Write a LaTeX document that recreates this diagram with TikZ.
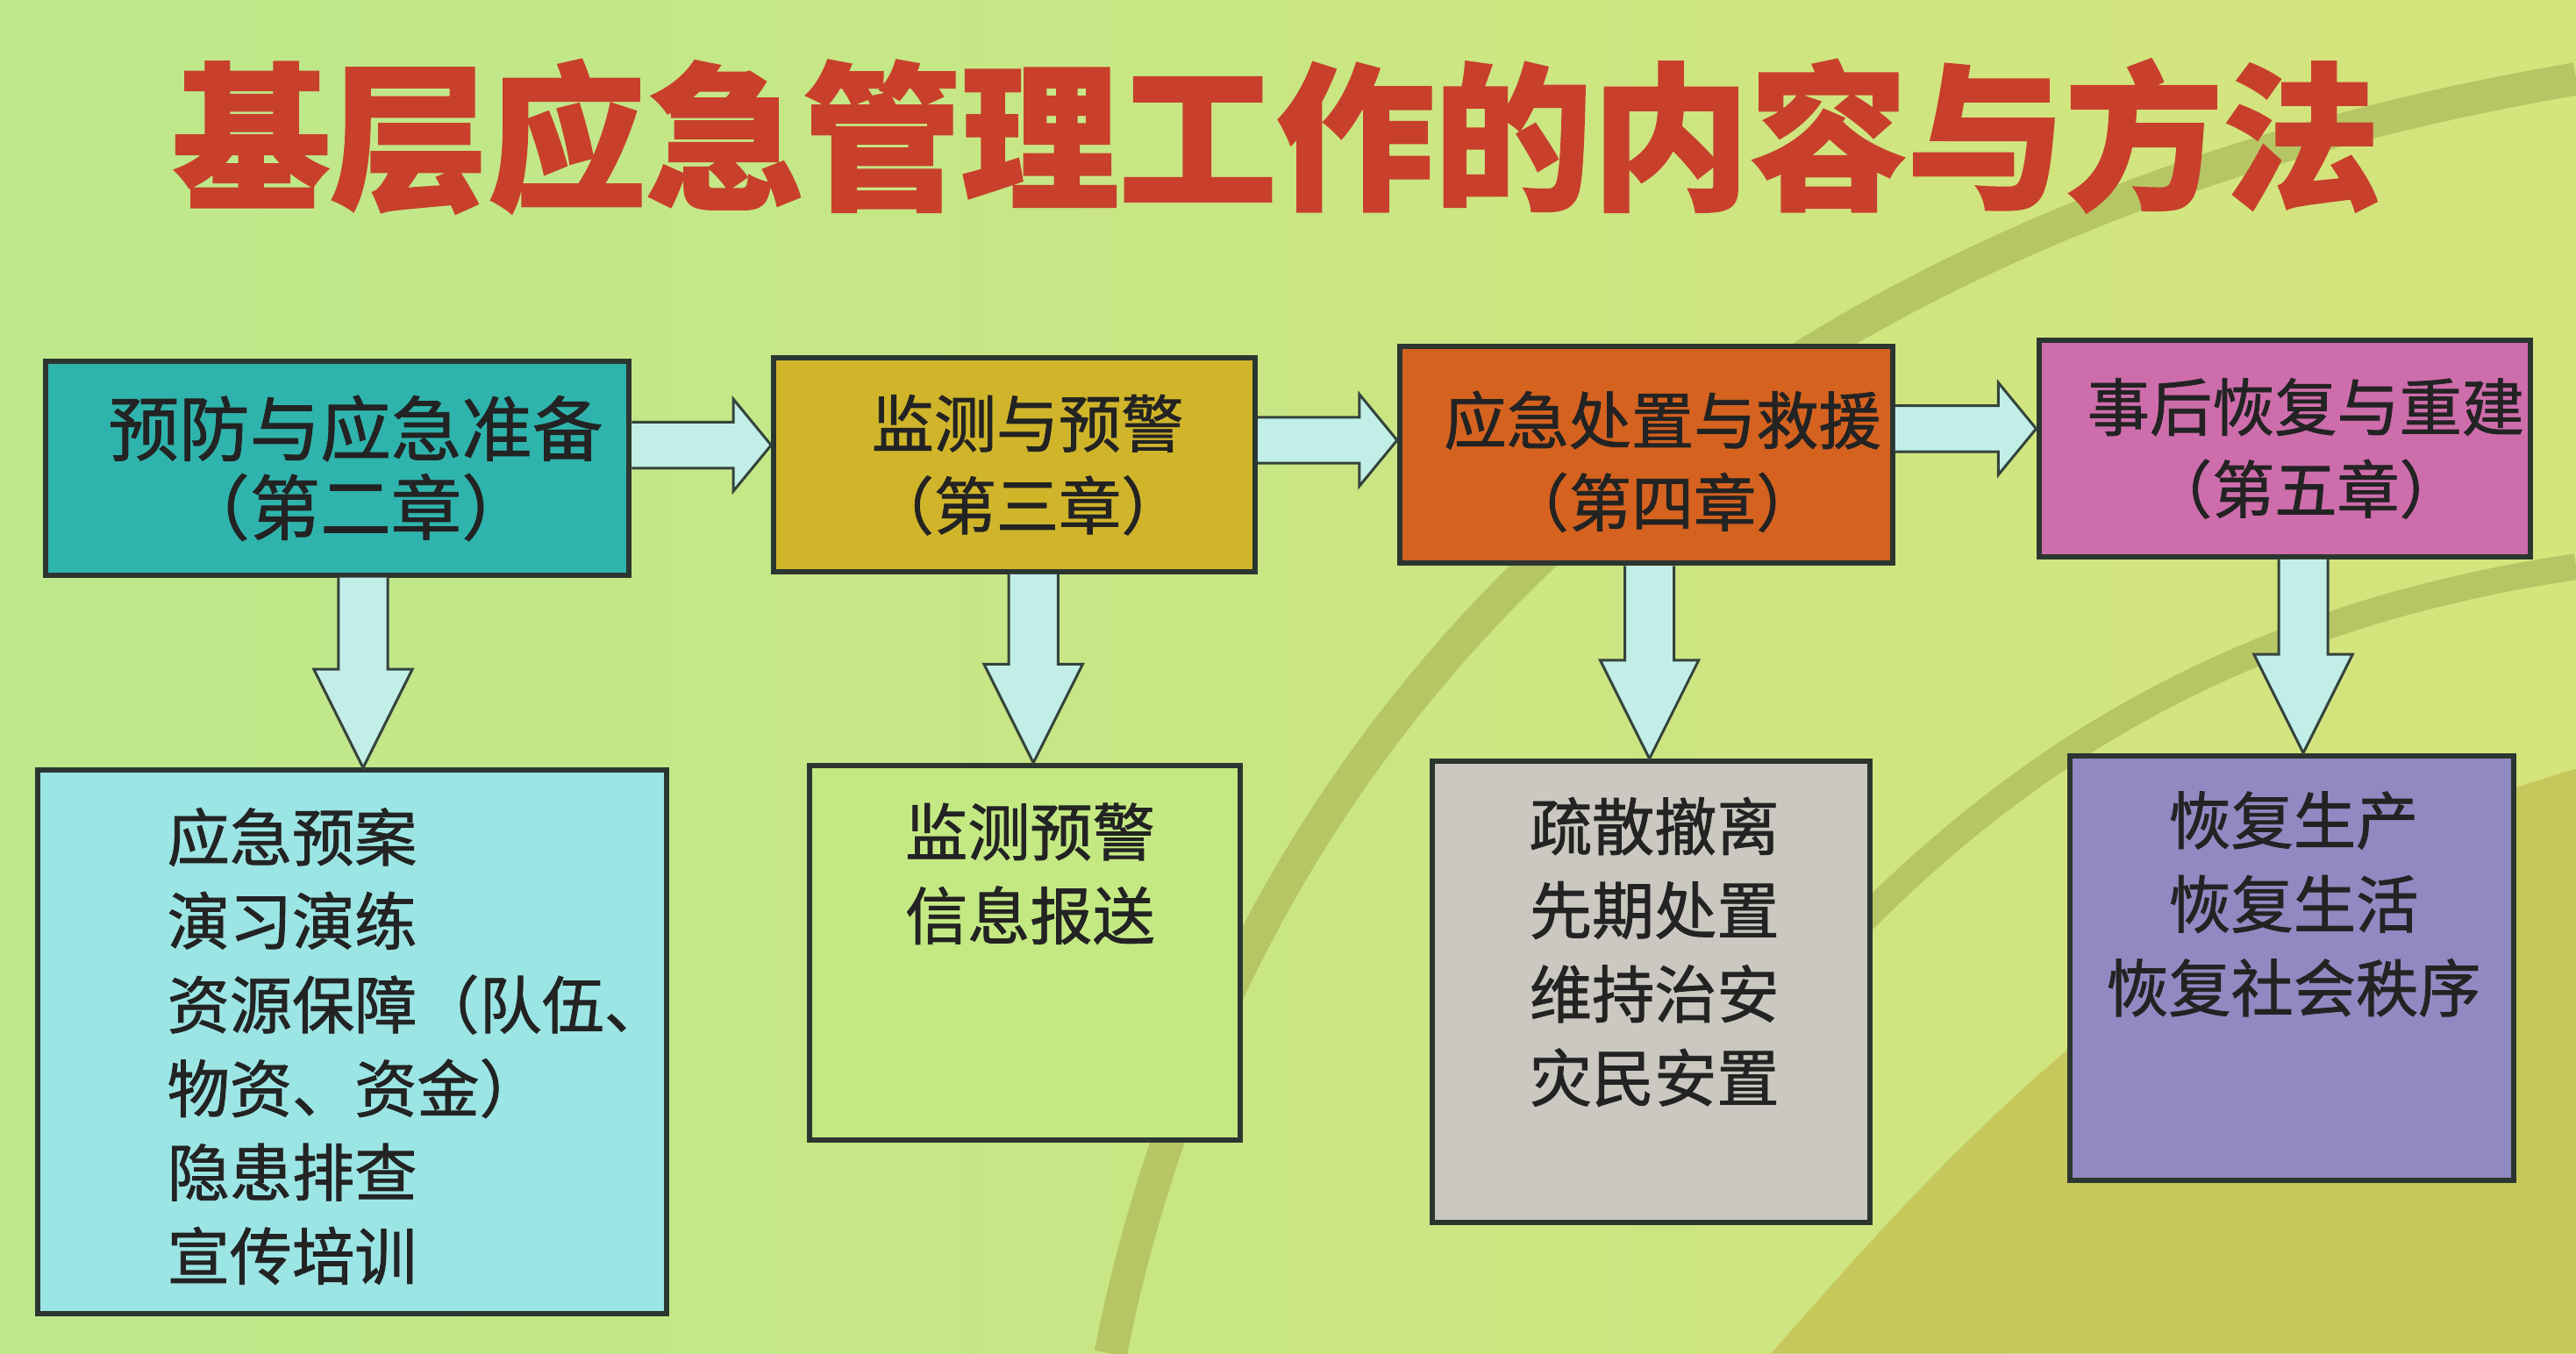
\documentclass[tikz,border=0pt]{standalone}
\usepackage{fontspec}
\setmainfont{Noto Sans CJK SC}
\newfontfamily\boxfont{Noto Sans CJK SC}[FakeBold=1.2]
\newfontfamily\headfont{Noto Sans CJK SC}[FakeBold=1.5]
\usetikzlibrary{calc}
\definecolor{bgleft}{HTML}{BDE88B}
\definecolor{bgright}{HTML}{D6E47C}
\definecolor{bandcol}{HTML}{B6C664}
\definecolor{bandfill}{HTML}{C6C85C}
\definecolor{titlered}{HTML}{C8402C}
\definecolor{edge}{HTML}{2C3630}
\definecolor{ink}{HTML}{232323}
\definecolor{arrowfill}{HTML}{C2EEE8}
\definecolor{arrowedge}{HTML}{34443C}
\definecolor{prevcol}{HTML}{2FB4AD}
\definecolor{monicol}{HTML}{D0B52B}
\definecolor{respcol}{HTML}{D5621F}
\definecolor{recovcol}{HTML}{CE6DAC}
\definecolor{prevtask}{HTML}{9BE5E4}
\definecolor{monitask}{HTML}{C4E983}
\definecolor{resptask}{HTML}{CBC7C1}
\definecolor{recovtask}{HTML}{9089C2}
\begin{document}
\begin{tikzpicture}[x=0.5pt,y=0.5pt,yscale=-1,xscale=1,
    phase/.style={draw=edge, line width=1.6pt, inner sep=0pt},
    task/.style={draw=edge, line width=1.6pt, inner sep=0pt},
    phasetext/.style={align=center, text=ink, inner sep=0pt, font=\boxfont\fontsize{19pt}{25pt}\selectfont},
    tasktext/.style={align=center, text=ink, inner sep=0pt, font=\boxfont\fontsize{19pt}{25.5pt}\selectfont},
    headline/.style={text=titlered, inner sep=0pt, font=\headfont\bfseries\fontsize{48pt}{50pt}\selectfont},
    flowarrow/.style={draw=arrowedge, fill=arrowfill, line width=0.8pt, line join=miter},
    band/.style={draw=bandcol, line cap=butt}]
        \useasboundingbox (0,0) rectangle (1568,824);
        % background of the poster
        \fill [left color=bgleft, right color=bgright] (0,0) rectangle (1568,824);
        \fill [bandfill] (1078,824) .. controls (1170,720) and (1320,540) .. (1568,468) -- (1568,824) -- cycle;
        \draw [band, line width=10pt] (676,824) .. controls (750,450) and (1030,140) .. (1568,48);
        \draw [band, line width=8pt] (1110,585) .. controls (1200,490) and (1330,380) .. (1568,345);
        % title
        \node [headline] (title) at (777,83) {基层应急管理工作的内容与方法};
        % phases
        \node [phase, fill=prevcol, minimum width=177.5pt, minimum height=65pt] (p1) at (205.5,285) {};
        \node [phase, fill=monicol, minimum width=146.5pt, minimum height=65pt] (p2) at (617.5,283) {};
        \node [phase, fill=respcol, minimum width=150pt, minimum height=66pt] (p3) at (1002,277) {};
        \node [phase, fill=recovcol, minimum width=149.5pt, minimum height=66pt] (p4) at (1390.5,273) {};
        % tasks
        \node [task, fill=prevtask, minimum width=191.5pt, minimum height=165.5pt] (t1) at (214.5,634.5) {};
        \node [task, fill=monitask, minimum width=131pt, minimum height=114pt] (t2) at (624,580) {};
        \node [task, fill=resptask, minimum width=133pt, minimum height=140.25pt] (t3) at (1005,603.75) {};
        \node [task, fill=recovtask, minimum width=135pt, minimum height=129.25pt] (t4) at (1395,589.25) {};
        % arrows between phases
        \coordinate (r1) at (0,271);
        \coordinate (r2) at (0,268);
        \coordinate (r3) at (0,261);
        \draw [flowarrow] ($(p1.east |- r1)+(0,-14)$) -- ($(p2.west |- r1)+(-23,-14)$) -- ($(p2.west |- r1)+(-23,-28)$) -- (p2.west |- r1) -- ($(p2.west |- r1)+(-23,28)$) -- ($(p2.west |- r1)+(-23,14)$) -- ($(p1.east |- r1)+(0,14)$);
        \draw [flowarrow] ($(p2.east |- r2)+(0,-14)$) -- ($(p3.west |- r2)+(-23,-14)$) -- ($(p3.west |- r2)+(-23,-28)$) -- (p3.west |- r2) -- ($(p3.west |- r2)+(-23,28)$) -- ($(p3.west |- r2)+(-23,14)$) -- ($(p2.east |- r2)+(0,14)$);
        \draw [flowarrow] ($(p3.east |- r3)+(0,-14)$) -- ($(p4.west |- r3)+(-23,-14)$) -- ($(p4.west |- r3)+(-23,-28)$) -- (p4.west |- r3) -- ($(p4.west |- r3)+(-23,28)$) -- ($(p4.west |- r3)+(-23,14)$) -- ($(p3.east |- r3)+(0,14)$);
        % arrows down to the tasks
        \coordinate (d1) at (221,0);
        \coordinate (d2) at (629,0);
        \coordinate (d3) at (1004,0);
        \coordinate (d4) at (1402,0);
        \draw [flowarrow] ($(d1 |- p1.south)+(-15,0)$) -- ($(d1 |- t1.north)+(-15,-60)$) -- ($(d1 |- t1.north)+(-30,-60)$) -- (d1 |- t1.north) -- ($(d1 |- t1.north)+(30,-60)$) -- ($(d1 |- t1.north)+(15,-60)$) -- ($(d1 |- p1.south)+(15,0)$);
        \draw [flowarrow] ($(d2 |- p2.south)+(-15,0)$) -- ($(d2 |- t2.north)+(-15,-60)$) -- ($(d2 |- t2.north)+(-30,-60)$) -- (d2 |- t2.north) -- ($(d2 |- t2.north)+(30,-60)$) -- ($(d2 |- t2.north)+(15,-60)$) -- ($(d2 |- p2.south)+(15,0)$);
        \draw [flowarrow] ($(d3 |- p3.south)+(-15,0)$) -- ($(d3 |- t3.north)+(-15,-60)$) -- ($(d3 |- t3.north)+(-30,-60)$) -- (d3 |- t3.north) -- ($(d3 |- t3.north)+(30,-60)$) -- ($(d3 |- t3.north)+(15,-60)$) -- ($(d3 |- p3.south)+(15,0)$);
        \draw [flowarrow] ($(d4 |- p4.south)+(-15,0)$) -- ($(d4 |- t4.north)+(-15,-60)$) -- ($(d4 |- t4.north)+(-30,-60)$) -- (d4 |- t4.north) -- ($(d4 |- t4.north)+(30,-60)$) -- ($(d4 |- t4.north)+(15,-60)$) -- ($(d4 |- p4.south)+(15,0)$);
        % texts
        \node [phasetext, font=\boxfont\fontsize{21.5pt}{24pt}\selectfont] (p1txt) at ($(p1.center)+(11,0)$) {预防与应急准备\\（第二章）};
        \node [phasetext] (p2txt) at ($(p2.center)+(8,0)$) {监测与预警\\（第三章）};
        \node [phasetext] (p3txt) at ($(p3.center)+(10,4)$) {应急处置与救援\\（第四章）};
        \node [phasetext] (p4txt) at ($(p4.center)+(13,0)$) {事后恢复与重建\\（第五章）};
        \node [tasktext, align=left, anchor=north west] (t1txt) at ($(t1.north west)+(80,24)$) {应急预案\\演习演练\\资源保障（队伍、\\物资、资金）\\隐患排查\\宣传培训};
        \node [tasktext, anchor=north] (t2txt) at ($(t2.north)+(3,24)$) {监测预警\\信息报送};
        \node [tasktext, anchor=north] (t3txt) at ($(t3.north)+(2,23)$) {疏散撤离\\先期处置\\维持治安\\灾民安置};
        \node [tasktext, anchor=north] (t4txt) at ($(t4.north)+(1,23)$) {恢复生产\\恢复生活\\恢复社会秩序};
\end{tikzpicture}
\end{document}
